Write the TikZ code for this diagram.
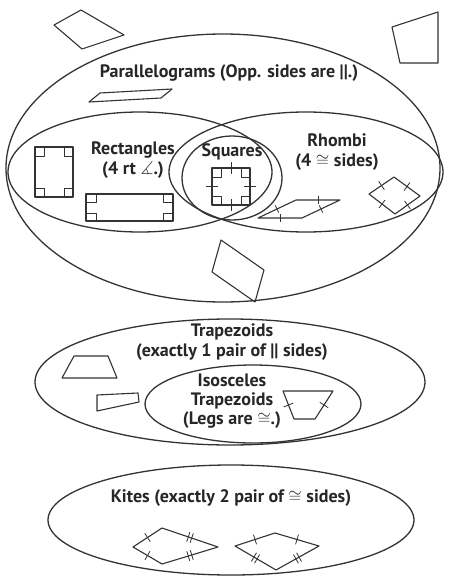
\documentclass[tikz,border=0pt]{standalone}
\usepackage{amsmath}
\usepackage{amssymb}
\usepackage{fontspec}
\setmainfont{PT Sans}
\newfontfamily\labfont{PT Sans}[UprightFont=* Bold]
\usetikzlibrary{calc}
\definecolor{inkgray}{HTML}{333333}

\begin{document}
\begin{tikzpicture}[x=1pt, y=-1pt, line join=round,
  set/.style={draw=inkgray, line width=1.3pt},
  shp/.style={draw=inkgray, line width=1.1pt},
  tk/.style={draw=inkgray, line width=0.8pt},
  lab/.style={font=\labfont\fontsize{18}{20}\selectfont, text=black!85, align=center, inner sep=0pt}]
\useasboundingbox (0,0) rectangle (448,576);

% Loose quadrilaterals at the top
\draw[shp] (54,25) -- (81,10) -- (124,35) -- (82,49) -- cycle;
\draw[shp] (392,27) -- (438,12) -- (438,63) -- (400,63) -- cycle;

% Parallelograms
\draw[set] (223,168) ellipse [x radius=217, y radius=134];
\node[lab] (parlab) at (229,73) {Parallelograms (Opp. sides are ||.)};
\draw[shp] (89,102) -- (100,93) -- (172,89) -- (161,98) -- cycle;
\draw[shp] (221,240) -- (212,272) -- (255,302) -- (264,270) -- cycle;

% Rectangles and rhombi overlap, squares in between
\draw[set] (140,172) ellipse [x radius=132, y radius=60];
\draw[set] (306,172) ellipse [x radius=137, y radius=60];
\draw[set] (232,178) ellipse [x radius=50, y radius=42];
\node[lab] (reclab) at (133,160) {Rectangles\\(4 rt $\measuredangle$.)};
\node[lab] (sqlab) at (232,152) {Squares};
\node[lab] (rhlab) at (337,152) {Rhombi\\(4 $\cong$ sides)};

% Rectangles with right-angle marks
\draw[shp] (35,147) rectangle (73,197);
\foreach \cx/\cy/\sx/\sy in {35/147/1/1, 73/147/-1/1, 35/197/1/-1, 73/197/-1/-1}
  \draw[tk] (\cx+\sx*9,\cy) |- (\cx,\cy+\sy*9);
\draw[shp] (86,194) rectangle (173,221);
\foreach \cx/\cy/\sx/\sy in {86/194/1/1, 173/194/-1/1, 86/221/1/-1, 173/221/-1/-1}
  \draw[tk] (\cx+\sx*10,\cy) |- (\cx,\cy+\sy*8);

% Square
\draw[shp] (212,168) rectangle (250,205);
\foreach \cx/\cy/\sx/\sy in {212/168/1/1, 250/168/-1/1, 212/205/1/-1, 250/205/-1/-1}
  \draw[tk] (\cx+\sx*9,\cy) |- (\cx,\cy+\sy*9);
\coordinate (sA) at (212,168);
\coordinate (sB) at (250,168);
\coordinate (sC) at (250,205);
\coordinate (sD) at (212,205);
\foreach \p/\q in {sA/sB, sB/sC, sC/sD, sD/sA}
  \draw[tk] ($(\p)!0.5!(\q)!6pt!90:(\q)$) -- ($(\p)!0.5!(\q)!6pt!-90:(\q)$);

% Rhombi
\coordinate (rA) at (258,218);
\coordinate (rB) at (302,218);
\coordinate (rC) at (340,200);
\coordinate (rD) at (296,200);
\draw[shp] (rA) -- (rB) -- (rC) -- (rD) -- cycle;
\foreach \p/\q in {rA/rB, rB/rC, rC/rD, rD/rA}
  \draw[tk] ($(\p)!0.5!(\q)!4pt!90:(\q)$) -- ($(\p)!0.5!(\q)!4pt!-90:(\q)$);
\coordinate (dA) at (369,194);
\coordinate (dB) at (394,177);
\coordinate (dC) at (420,196);
\coordinate (dD) at (395,214);
\draw[shp] (dA) -- (dB) -- (dC) -- (dD) -- cycle;
\foreach \p/\q in {dA/dB, dB/dC, dC/dD, dD/dA}
  \draw[tk] ($(\p)!0.5!(\q)!5pt!90:(\q)$) -- ($(\p)!0.5!(\q)!5pt!-90:(\q)$);

% Trapezoids
\draw[set] (230,382) ellipse [x radius=195, y radius=63];
\node[lab] (trlab) at (232,342) {Trapezoids\\(exactly 1 pair of || sides)};
\draw[shp] (62,378) -- (74,356) -- (108,356) -- (117,378) -- cycle;
\draw[shp] (97,395) -- (138,393) -- (139,402) -- (97,411) -- cycle;

% Isosceles trapezoids
\draw[set] (253,404) ellipse [x radius=108, y radius=39];
\node[lab, font=\labfont\fontsize{18}{19}\selectfont] (isolab) at (232,401) {Isosceles\\Trapezoids\\(Legs are $\cong$.)};
\coordinate (iA) at (283,391);
\coordinate (iB) at (333,391);
\coordinate (iC) at (315,419);
\coordinate (iD) at (294,419);
\draw[shp] (iA) -- (iB) -- (iC) -- (iD) -- cycle;
\foreach \p/\q in {iB/iC, iD/iA}
  \draw[tk] ($(\p)!0.5!(\q)!5pt!90:(\q)$) -- ($(\p)!0.5!(\q)!5pt!-90:(\q)$);

% Kites
\draw[set] (231,520) ellipse [x radius=183, y radius=55];
\node[lab] (kilab) at (231,498) {Kites (exactly 2 pair of $\cong$ sides)};
\coordinate (kL) at (133,547);
\coordinate (kT) at (162,528);
\coordinate (kR) at (218,547);
\coordinate (kB) at (162,564);
\draw[shp] (kL) -- (kT) -- (kR) -- (kB) -- cycle;
\coordinate (mL) at (235,546);
\coordinate (mT) at (275,533);
\coordinate (mR) at (319,546);
\coordinate (mB) at (276,570);
\draw[shp] (mL) -- (mT) -- (mR) -- (mB) -- cycle;
% single ticks
\foreach \p/\q in {kL/kT, kB/kL, mL/mT, mT/mR}
  \draw[tk] ($(\p)!0.5!(\q)!5pt!90:(\q)$) -- ($(\p)!0.5!(\q)!5pt!-90:(\q)$);
% double ticks
\foreach \p/\q in {kT/kR, kR/kB, mL/mB, mB/mR}
  \foreach \s in {-1.8pt, 1.8pt}
    \draw[tk] ($(\p)!0.5!(\q)!\s!(\q)!5pt!90:(\q)$) -- ($(\p)!0.5!(\q)!\s!(\q)!5pt!-90:(\q)$);

\end{tikzpicture}
\end{document}
